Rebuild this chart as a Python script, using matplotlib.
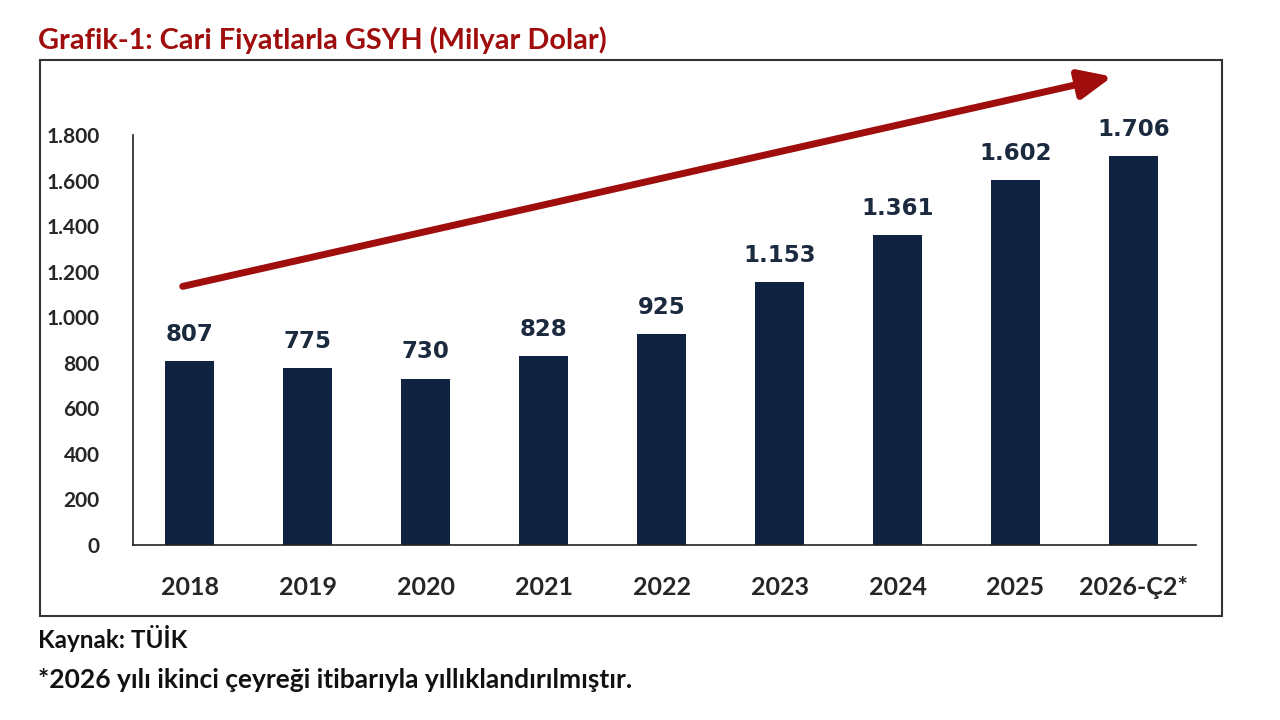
import matplotlib.pyplot as plt
from matplotlib.patches import Rectangle, FancyArrowPatch

years = ['2018', '2019', '2020', '2021', '2022', '2023', '2024', '2025', '2026-Ç2*']
gdp = [807, 775, 730, 828, 925, 1153, 1361, 1602, 1706]
yticks = [0, 200, 400, 600, 800, 1000, 1200, 1400, 1600, 1800]

bar_color = '#0f2341'
red = '#a00d0d'
txt = '#262626'


def fmt(v):
    return f'{v:,}'.replace(',', '.')


fig = plt.figure(figsize=(12.8, 7.2), dpi=100)
ax = fig.add_axes([133 / 1280, 1 - 545 / 720, (1196 - 133) / 1280, (545 - 135) / 720])

x = range(len(years))
bars = ax.bar(x, gdp, width=0.42, color=bar_color)
for xi, v in zip(x, gdp):
    ax.text(xi, v + 68, fmt(v), ha='center', va='bottom', fontsize=16.5,
            fontweight='bold', color='#1c2a3f', family='DejaVu Sans')

ax.set_ylim(0, 1800)
ax.set_xlim(-0.48, 8.53)
ax.set_yticks(yticks)
ax.set_yticklabels([fmt(t) for t in yticks], fontsize=15, fontweight='bold',
                   color=txt, family='Lato')
ax.set_xticks(list(x))
ax.set_xticklabels(years, fontsize=18, fontweight='bold', color=txt, family='Lato')
ax.tick_params(axis='y', length=0, pad=24)
ax.tick_params(axis='x', length=0, pad=22)
for s in ['top', 'right']:
    ax.spines[s].set_visible(False)
for s in ['left', 'bottom']:
    ax.spines[s].set_color('#222222')
    ax.spines[s].set_linewidth(1.2)

# outer frame
fig.add_artist(Rectangle((40 / 1280, 1 - 616 / 720), (1222 - 40) / 1280, (616 - 60) / 720,
                         transform=fig.transFigure, fill=False, edgecolor='#333333', lw=1.5))

# trend arrow
fig.add_artist(FancyArrowPatch((180 / 1280, 1 - 287 / 720), (1115 / 1280, 1 - 76 / 720),
                               transform=fig.transFigure, arrowstyle='-|>,head_length=9,head_width=4',
                               color=red, lw=5, mutation_scale=2.2))

fig.text(38 / 1280, 1 - 40 / 720, 'Grafik-1: Cari Fiyatlarla GSYH (Milyar Dolar)',
         fontsize=20.8, fontweight='bold', color=red, family='Lato', va='center')
fig.text(38 / 1280, 1 - 638 / 720, 'Kaynak: TÜİK', fontsize=17.5, color='#111111',
         family='Lato', fontweight='bold', va='center')
fig.text(38 / 1280, 1 - 680 / 720, '*2026 yılı ikinci çeyreği itibarıyla yıllıklandırılmıştır.',
         fontsize=19, color='#111111', family='Lato', fontweight='bold', va='center')

fig.savefig('out.png', dpi=100)
